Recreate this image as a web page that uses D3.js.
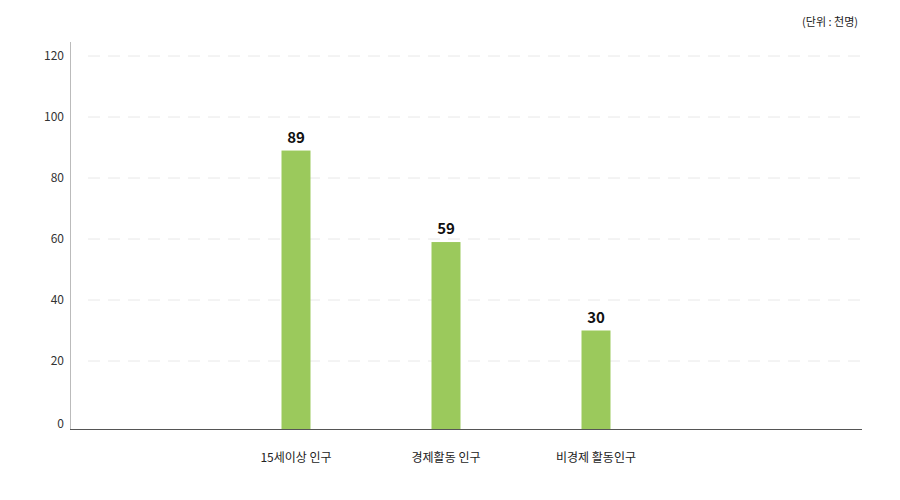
<!DOCTYPE html>
<html><head><meta charset="utf-8">
<script src="https://cdn.jsdelivr.net/npm/d3@7"></script>
<style>body{margin:0;background:#fff}text{font-family:"Noto Sans CJK KR","Noto Sans",sans-serif}</style>
</head><body>
<svg id="chart" width="900" height="500"></svg>
<script>
const categories = ["", "15세이상 인구", "경제활동 인구", "비경제 활동인구", ""];
const values = [null, 89, 59, 30, null];
const yTicks = [0, 20, 40, 60, 80, 100, 120];

const svg = d3.select("#chart");
const x = d3.scaleBand().domain(d3.range(categories.length)).range([71, 821]);
const y = d3.scaleLinear().domain([0, 120]).range([422, 56]);

svg.append("text").attr("x", 858).attr("y", 26).attr("text-anchor", "end")
  .attr("font-size", 11).attr("fill", "#222").text("(단위 : 천명)");

// grid
svg.selectAll(".grid").data(yTicks.filter(d => d > 0)).join("line")
  .attr("x1", 88).attr("x2", 860).attr("y1", d => y(d)).attr("y2", d => y(d))
  .attr("stroke", "#e8e8e8").attr("stroke-dasharray", "12,8");

svg.selectAll(".ylab").data(yTicks).join("text")
  .attr("x", 64).attr("y", d => d === 0 ? 428 : y(d) + 4)
  .attr("text-anchor", "end").attr("font-size", 12).attr("fill", "#333").text(d => d);

svg.append("line").attr("x1", 70.5).attr("x2", 70.5).attr("y1", 42).attr("y2", 429).attr("stroke", "#bbb");

const data = values.map((v, i) => ({ v, i })).filter(d => d.v != null);
svg.selectAll(".bar").data(data).join("rect")
  .attr("x", d => x(d.i) + x.bandwidth() / 2 - 14.5).attr("width", 29)
  .attr("y", d => y(d.v)).attr("height", d => 429 - y(d.v)).attr("fill", "#9bc95c");

svg.selectAll(".val").data(data).join("text")
  .attr("x", d => x(d.i) + x.bandwidth() / 2).attr("y", d => y(d.v) - 8)
  .attr("text-anchor", "middle").attr("font-size", 15).attr("font-weight", "bold").attr("fill", "#111").text(d => d.v);

svg.append("line").attr("x1", 70).attr("x2", 862).attr("y1", 429.5).attr("y2", 429.5).attr("stroke", "#555");

svg.selectAll(".xlab").data(data).join("text")
  .attr("x", d => x(d.i) + x.bandwidth() / 2).attr("y", 462)
  .attr("text-anchor", "middle").attr("font-size", 12).attr("fill", "#222").text(d => categories[d.i]);
</script>
</body></html>
